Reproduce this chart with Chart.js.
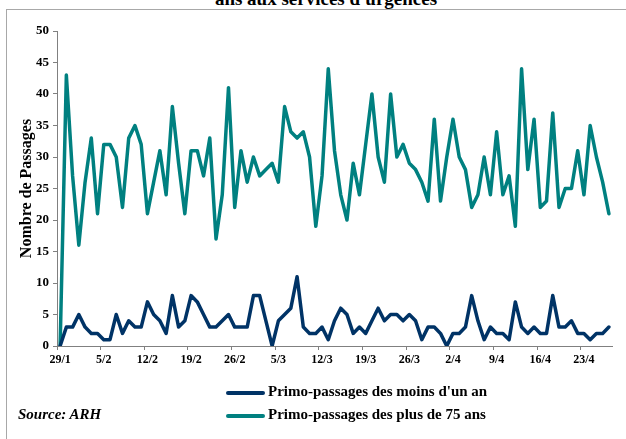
<!DOCTYPE html>
<html>
<head>
<meta charset="utf-8">
<script src="https://cdn.jsdelivr.net/npm/chart.js@4"></script>
<style>
  body { margin: 0; background: #fff; }
  #wrap { position: relative; width: 626px; height: 439px; overflow: hidden; font-family: "Liberation Serif", "Times New Roman", serif; }
  #frame { position: absolute; left: 6px; top: 9px; width: 640px; height: 460px; border-top: 1px solid #a8a8a8; border-left: 1px solid #a8a8a8; }
  #title { position: absolute; left: 0; width: 652px; top: -11px; text-align: center; font-weight: bold; font-size: 19px; line-height: 19px; }
  canvas { position: absolute; left: 0; top: 0; }
  .leg { position: absolute; left: 226px; font-weight: bold; font-size: 15px; line-height: 16px; }
  .leg span.sw { display: inline-block; width: 39px; height: 4px; border-radius: 2px; vertical-align: middle; margin-right: 3px; }
  #source { position: absolute; left: 18px; top: 406px; font-weight: bold; font-style: italic; font-size: 15px; line-height: 16px; }
</style>
</head>
<body>
<div id="wrap">
  <div id="frame"></div>
  <div id="title">ans aux services d'urgences</div>
  <canvas id="chart" width="626" height="439"></canvas>
  <div class="leg" style="top:383px"><span class="sw" style="background:#003366"></span>Primo-passages des moins d'un an</div>
  <div class="leg" style="top:406px"><span class="sw" style="background:#008080"></span>Primo-passages des plus de 75 ans</div>
  <div id="source">Source: ARH</div>
</div>
<script>
// dates, one per day, 29/1 -> 27/4
var dates = [
  "29/1", "30/1", "31/1",
  "1/2", "2/2", "3/2", "4/2", "5/2", "6/2", "7/2", "8/2", "9/2", "10/2", "11/2", "12/2", "13/2", "14/2",
  "15/2", "16/2", "17/2", "18/2", "19/2", "20/2", "21/2", "22/2", "23/2", "24/2", "25/2", "26/2", "27/2", "28/2",
  "1/3", "2/3", "3/3", "4/3", "5/3", "6/3", "7/3", "8/3", "9/3", "10/3", "11/3", "12/3", "13/3", "14/3", "15/3", "16/3",
  "17/3", "18/3", "19/3", "20/3", "21/3", "22/3", "23/3", "24/3", "25/3", "26/3", "27/3", "28/3", "29/3", "30/3", "31/3",
  "1/4", "2/4", "3/4", "4/4", "5/4", "6/4", "7/4", "8/4", "9/4", "10/4", "11/4", "12/4", "13/4", "14/4", "15/4", "16/4",
  "17/4", "18/4", "19/4", "20/4", "21/4", "22/4", "23/4", "24/4", "25/4", "26/4", "27/4"
];

var moinsUnAn = [
  0, 3, 3, 5, 3, 2, 2, 1, 1, 5,
  2, 4, 3, 3, 7, 5, 4, 2, 8, 3,
  4, 8, 7, 5, 3, 3, 4, 5, 3, 3,
  3, 8, 8, 4, 0, 4, 5, 6, 11, 3,
  2, 2, 3, 1, 4, 6, 5, 2, 3, 2,
  4, 6, 4, 5, 5, 4, 5, 4, 1, 3,
  3, 2, 0, 2, 2, 3, 8, 4, 1, 3,
  2, 2, 1, 7, 3, 2, 3, 2, 2, 8,
  3, 3, 4, 2, 2, 1, 2, 2, 3
];

var plus75Ans = [
  0, 43, 27, 16, 26, 33, 21, 32, 32, 30,
  22, 33, 35, 32, 21, 26, 31, 24, 38, 29,
  21, 31, 31, 27, 33, 17, 24, 41, 22, 31,
  26, 30, 27, 28, 29, 26, 38, 34, 33, 34,
  30, 19, 27, 44, 31, 24, 20, 29, 24, 32,
  40, 30, 26, 40, 30, 32, 29, 28, 26, 23,
  36, 23, 30, 36, 30, 28, 22, 24, 30, 24,
  34, 24, 27, 19, 44, 28, 36, 22, 23, 37,
  22, 25, 25, 31, 24, 35, 30, 26, 21
];

var seriesNames = ["Primo-passages des moins d'un an", "Primo-passages des plus de 75 ans"];
var yTicksMax = 50;
var yStep = 5;

var axisGrey = "#808080";
var serif = "'Liberation Serif', 'Times New Roman', serif";

function makeLine(label, data, color) {
  return {
    label: label,
    data: data,
    borderColor: color,
    backgroundColor: color,
    borderWidth: 3.5,
    pointRadius: 0,
    tension: 0,
    fill: false,
    borderJoinStyle: "round",
    borderCapStyle: "round"
  };
}

var ctx = document.getElementById("chart").getContext("2d");
new Chart(ctx, {
  type: "line",
  data: {
    labels: dates,
    datasets: [
      makeLine(seriesNames[0], moinsUnAn, "#003366"),
      makeLine(seriesNames[1], plus75Ans, "#008080")
    ]
  },
  options: {
    responsive: false,
    animation: false,
    layout: { padding: { left: 0, top: 31, right: 14, bottom: 73 } },
    plugins: {
      legend: { display: false },
      tooltip: { enabled: false }
    },
    scales: {
      x: {
        offset: true,
        grid: {
          offset: true,
          drawOnChartArea: false,
          tickLength: 4,
          color: function (c) {
            return (c.index !== undefined && c.index % 7 === 0) ? axisGrey : "rgba(0,0,0,0)";
          }
        },
        border: { color: axisGrey, width: 1 },
        ticks: {
          autoSkip: false,
          maxRotation: 0,
          padding: 3,
          color: "#000",
          font: { family: serif, size: 12, weight: "bold" },
          callback: function (v, i) {
            return i % 7 === 0 ? this.getLabelForValue(v) : "";
          }
        },
        afterFit: function (s) { s.height = 20; }
      },
      y: {
        min: 0,
        max: yTicksMax,
        grid: { drawOnChartArea: false, tickLength: 4, color: axisGrey },
        border: { color: axisGrey, width: 1 },
        ticks: {
          stepSize: yStep,
          padding: 4,
          color: "#000",
          font: { family: serif, size: 13, weight: "bold" }
        },
        title: {
          display: true,
          text: "Nombre de Passages",
          color: "#000",
          padding: { top: 17, bottom: 0 },
          font: { family: serif, size: 16, weight: "bold" }
        },
        afterFit: function (s) { s.width = 57; }
      }
    }
  }
});
</script>
</body>
</html>
